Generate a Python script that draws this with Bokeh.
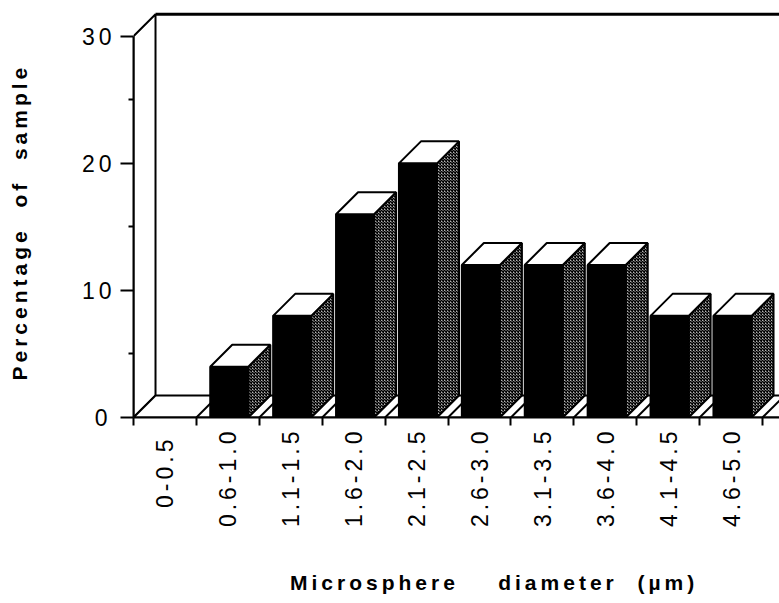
import numpy as np
from bokeh.plotting import figure
from bokeh.models import FixedTicker, Range1d, InlineStyleSheet, Title
from bokeh.embed import file_html
from bokeh.resources import INLINE

# ---- data -------------------------------------------------------------
categories = ["0-0.5", "0.6-1.0", "1.1-1.5", "1.6-2.0", "2.1-2.5",
              "2.6-3.0", "3.1-3.5", "3.6-4.0", "4.1-4.5", "4.6-5.0"]
percent = [0, 4, 8, 16, 20, 12, 12, 12, 8, 8]
y_ticks = [0, 10, 20, 30]
y_minor_ticks = [5, 15, 25]
y_top = 30

NB = "\u00a0"
x_title = "Microsphere " + NB * 3 + "diameter " + NB + "(µm)"
y_title = "Percentage " + NB + "of " + NB + "sample"

# ---- 3-D box geometry (data units) ------------------------------------
DX, DY = 0.35, 1.73          # depth offset of the back plane
BAR_L, BAR_R = 0.22, 0.825   # bar front face inside each category slot
X_END = 10.27
LW = 2

FONT = "Liberation Sans"

p = figure(width=779, height=603, output_backend="svg", toolbar_location=None,
           x_range=Range1d(0, X_END), y_range=Range1d(0, 32.5),
           min_border_left=133, min_border_right=0,
           min_border_top=4, min_border_bottom=186)
p.grid.visible = False
p.outline_line_color = None
p.background_fill_color = "white"
# wide tracking, as in old typeset figures
p.stylesheets = [InlineStyleSheet(css=":host { letter-spacing: 4px; }")]

n = len(categories)

# side wall and floor
p.patch([0, DX, DX, 0], [0, DY, y_top + DY, y_top],
        fill_color="white", line_color="black", line_width=LW)
p.patch([0, DX, X_END + 1, X_END + 1], [0, DY, DY, 0],
        fill_color="white", line_color="black", line_width=LW)
# top edge of the back wall
p.segment(x0=[DX], y0=[y_top + DY], x1=[X_END + 1], y1=[y_top + DY],
          line_color="black", line_width=3)
# floor dividers at category boundaries
bounds = np.arange(1, n + 1)
p.segment(x0=bounds, y0=np.zeros(n), x1=bounds + DX, y1=np.full(n, DY),
          line_color="black", line_width=LW)

# bars
for i, v in enumerate(percent):
    if v <= 0:
        continue
    l, r = i + BAR_L, i + BAR_R
    # hatched side face
    p.patch([r, r + DX, r + DX, r], [0, DY, v + DY, v],
            fill_color="#b4b4b4", hatch_pattern="diagonal_cross",
            hatch_color="black", hatch_scale=3, hatch_weight=1.5,
            line_color="black", line_width=LW)
    # black front face
    p.quad(left=[l], right=[r], bottom=[0], top=[v],
           fill_color="black", line_color="black", line_width=LW)
    # white top face
    p.patch([l, l + DX, r + DX, r], [v, v + DY, v + DY, v],
            fill_color="white", line_color="black", line_width=LW)

# ---- axes -------------------------------------------------------------
ya = p.yaxis[0]
ya.ticker = FixedTicker(ticks=y_ticks, minor_ticks=y_minor_ticks)
ya.bounds = (0, y_top)
ya.axis_line_width = LW
ya.major_tick_out = 13
ya.major_tick_in = 0
ya.minor_tick_out = 5
ya.minor_tick_in = 0
ya.major_tick_line_width = LW
ya.minor_tick_line_width = LW
ya.major_label_standoff = 13
ya.major_label_text_font = FONT
ya.major_label_text_font_size = "23px"
ya.major_label_text_color = "black"
# blank axis label: keeps a gap between the tick labels and the title
ya.axis_label = NB
ya.axis_label_text_font_size = "21px"
ya.axis_label_standoff = 19

centers = [i + 0.5 for i in range(n)]
xa = p.xaxis[0]
xa.ticker = FixedTicker(ticks=centers, minor_ticks=list(range(n + 1)))
xa.major_label_overrides = {c: lab for c, lab in zip(centers, categories)}
xa.major_label_orientation = np.pi / 2
xa.axis_line_width = LW
xa.major_tick_line_color = None
xa.major_tick_out = 0
xa.major_tick_in = 0
xa.minor_tick_out = 8
xa.minor_tick_in = 0
xa.minor_tick_line_width = LW
xa.major_label_standoff = 30
xa.major_label_text_font = FONT
xa.major_label_text_font_size = "23px"
xa.major_label_text_color = "black"
xa.axis_label = x_title + NB * 7
xa.axis_label_text_font = FONT
xa.axis_label_text_font_style = "bold"
xa.axis_label_text_font_size = "21px"
xa.axis_label_text_color = "black"
xa.axis_label_standoff = 41

# y-axis title
p.add_layout(Title(text=y_title, align="left", offset=37, standoff=6,
                   text_font=FONT, text_font_style="bold",
                   text_font_size="21px", text_color="black"), "left")

open("out.html", "w").write(file_html(p, INLINE))
